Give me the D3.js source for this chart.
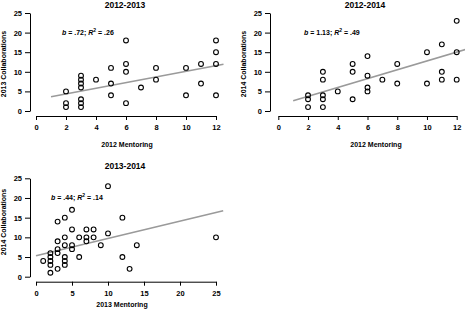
<!DOCTYPE html>
<html><head><meta charset="utf-8">
<script src="https://cdn.jsdelivr.net/npm/d3@7"></script>
<style>
body{margin:0;background:#fff;}
svg{display:block;font-family:"Liberation Sans",Arial,sans-serif;}
.tick text{font-weight:bold;font-size:7.5px;}
</style></head><body>
<svg id="c" width="465" height="312"></svg>
<script>
// Panel 1: 2012 Mentoring vs 2013 Collaborations
const p1x = [2,2,2, 3,3,3,3,3,3,3, 4, 5,5,5, 6,6,6,6, 7, 8,8, 10,10, 11,11, 12,12,12,12];
const p1y = [5,2,1, 9,8,7,6,3,2,1, 8, 11,7,4, 18,12,10,2, 6, 11,8, 11,4, 12,7, 18,15,12,4];
// Panel 2: 2012 Mentoring vs 2014 Collaborations
const p2x = [2,2,2, 3,3,3,3,3, 4, 5,5,5, 6,6,6,6, 7, 8,8, 10,10, 11,11,11, 12,12,12];
const p2y = [4,3,1, 10,8,4,3,1, 5, 12,10,3, 14,9,6,5, 8, 12,7, 15,7, 17,10,8, 23,15,8];
// Panel 3: 2013 Mentoring vs 2014 Collaborations
const p3x = [1, 2,2,2,2,2, 3,3,3,3,3, 4,4,4,4,4,4, 5,5,5,5, 6,6, 7,7,7, 8,8, 9, 10,10, 12,12, 13, 14, 25];
const p3y = [4, 6,5,4,3,1, 14,9,7,6,2, 15,10,8,5,4,3, 17,12,8,7, 10,5, 12,10,9, 12,10, 8, 23,11, 15,5, 2, 8, 10];

const titles = ["2012-2013","2012-2014","2013-2014"];
const xLabels = ["2012 Mentoring","2012 Mentoring","2013 Mentoring"];
const yLabels = ["2013 Collaborations","2014 Collaborations","2014 Collaborations"];
const xTicks = [[0,2,4,6,8,10,12],[0,2,4,6,8,10,12],[0,5,10,15,20,25]];
const yTicks = [0,5,10,15,20,25];
const slopes = [0.72, 1.13, 0.44];
const intercepts = [2.93, 1.47, 5.3];
const fitFrom = [1, 1, 0];
const fitTo = [12.5, 12.6, 26];
const bLabels = [".72", "1.13", ".44"];
const r2Labels = [".26", ".49", ".14"];

const svg = d3.select("#c");

const layout = [
  {xr:[36,216], yr:[111,13], yAxisX:30, xAxisY:116, titleX:125, titleY:7.5, xlabX:127, xlabY:146.5, ylabX:6, ylabY:64, annX:62, annY:34.5, xmax:12},
  {xr:[278.3,456.7], yr:[111,13], yAxisX:270, xAxisY:116, titleX:365, titleY:7.5, xlabX:376, xlabY:146.5, ylabX:246, ylabY:64, annX:304, annY:34.5, xmax:12},
  {xr:[36,216], yr:[276.7,178.3], yAxisX:30, xAxisY:281.7, titleX:125, titleY:168.5, xlabX:122, xlabY:306.5, ylabX:6, ylabY:222, annX:51, annY:200, xmax:25}
];
const xsData = [p1x,p2x,p3x], ysData = [p1y,p2y,p3y];

layout.forEach((L,i)=>{
  const x = d3.scaleLinear().domain([0,L.xmax]).range(L.xr);
  const y = d3.scaleLinear().domain([0,25]).range(L.yr);
  const g = svg.append("g");

  // fit line
  g.append("line")
    .attr("x1", x(fitFrom[i])).attr("y1", y(intercepts[i]+slopes[i]*fitFrom[i]))
    .attr("x2", x(fitTo[i])).attr("y2", y(intercepts[i]+slopes[i]*fitTo[i]))
    .attr("stroke","#9a9a9a").attr("stroke-width",1.6);

  // points
  g.selectAll("circle.pt").data(xsData[i].map((v,k)=>[v,ysData[i][k]])).enter()
    .append("circle").attr("class","pt")
    .attr("cx",d=>x(d[0])).attr("cy",d=>y(d[1])).attr("r",2.4)
    .attr("fill","none").attr("stroke","#000").attr("stroke-width",1.1);

  // axes
  const ya = g.append("g").attr("transform",`translate(${L.yAxisX},0)`)
    .call(d3.axisLeft(y).tickValues(yTicks).tickSize(5).tickPadding(3).tickSizeOuter(0));
  const xa = g.append("g").attr("transform",`translate(0,${L.xAxisY})`)
    .call(d3.axisBottom(x).tickValues(xTicks[i]).tickSize(4).tickPadding(5).tickSizeOuter(0));
  [ya,xa].forEach(a=>{
    a.select(".domain").attr("stroke","#000").attr("stroke-width",1);
    a.selectAll(".tick line").attr("stroke","#000");
    a.selectAll(".tick text").attr("fill","#000");
  });

  // title
  g.append("text").attr("x",L.titleX).attr("y",L.titleY).attr("text-anchor","middle")
    .attr("font-size",8.5).attr("font-weight","bold").text(titles[i]);
  // x label
  g.append("text").attr("x",L.xlabX).attr("y",L.xlabY).attr("text-anchor","middle")
    .attr("font-size",7).attr("font-weight","bold").text(xLabels[i]);
  // y label
  g.append("text").attr("transform",`translate(${L.ylabX},${L.ylabY}) rotate(-90)`)
    .attr("text-anchor","middle").attr("font-size",7).attr("font-weight","bold").text(yLabels[i]);
  // annotation
  const t = g.append("text").attr("x",L.annX).attr("y",L.annY).attr("font-size",7).attr("font-weight","bold");
  t.append("tspan").attr("font-style","italic").text("b");
  t.append("tspan").text(" = " + bLabels[i] + "; ");
  t.append("tspan").attr("font-style","italic").text("R");
  t.append("tspan").attr("font-size",5).attr("dy",-3).text("2");
  t.append("tspan").attr("dy",3).text(" = " + r2Labels[i]);
});
</script>
</body></html>
